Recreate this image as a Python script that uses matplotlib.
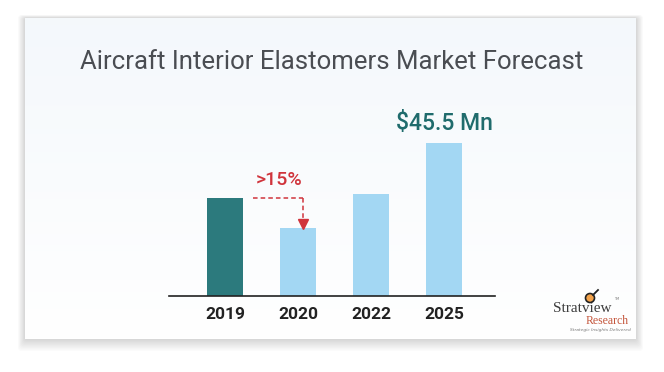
import matplotlib.pyplot as plt
import numpy as np
from matplotlib.patches import FancyBboxPatch, Circle

# ------------------------------------------------------------
# data
# ------------------------------------------------------------
years = ["2019", "2020", "2022", "2025"]
market = [29.1, 20.2, 30.3, 45.5]
bar_colors = ["#2c7a7d", "#a3d7f3", "#a3d7f3", "#a3d7f3"]
drop_label = ">15%"
final_label = "$45.5 Mn"
title = "Aircraft Interior Elastomers Market Forecast"

W, H = 664, 372
fig = plt.figure(figsize=(W / 100, H / 100), dpi=100)
fig.patch.set_facecolor("white")

# ------------------------------------------------------------
# background card (pixel coordinates)
# ------------------------------------------------------------
bg = fig.add_axes([0, 0, 1, 1])
bg.set_xlim(0, W)
bg.set_ylim(H, 0)
bg.axis("off")

cx0, cy0, cx1, cy1 = 25, 18, 636, 339
for k in range(10, 0, -1):
    bg.add_patch(FancyBboxPatch((cx0 - k * 0.7, cy0 - k * 0.3), cx1 - cx0 + k * 1.4, cy1 - cy0 + k * 1.5,
                                boxstyle="round,pad=0,rounding_size=3",
                                facecolor="#000000", edgecolor="none", alpha=0.015))
grad = np.linspace(0, 1, 256).reshape(-1, 1)
top = np.array([0.957, 0.973, 0.988])
bot = np.array([1.0, 1.0, 1.0])
img = top + (bot - top) * grad[..., None]
img = img.reshape(256, 1, 3)
bg.imshow(img, extent=[cx0, cx1, cy1, cy0], aspect="auto", zorder=1)
bg.set_xlim(0, W)
bg.set_ylim(H, 0)

bg.text(W / 2, 62, title, ha="center", va="center", fontsize=18.5,
        family="Roboto", color="#4a4d52", zorder=3)

# logo
bg.text(582, 308, "Stratview", ha="center", va="center", fontsize=11,
        family="Liberation Serif", color="#3d3d3d", zorder=3)
bg.text(607, 321, "Research", ha="center", va="center", fontsize=8.5,
        family="Liberation Serif", color="#c4553b", zorder=3)
bg.text(600, 330, "Strategic Insights Delivered", ha="center", va="center",
        fontsize=3.2, style="italic", color="#777777", zorder=3)
bg.text(617, 299, "TM", ha="center", va="center", fontsize=2.5, color="#777777", zorder=3)
bg.add_patch(Circle((590, 298), 4.5, facecolor="#f2a24a", edgecolor="#222222", lw=1.2, zorder=3))
bg.plot([593, 598], [295, 290], color="#222222", lw=1.3, zorder=3)

# ------------------------------------------------------------
# bar chart
# ------------------------------------------------------------
px_per_unit = 73.0
x0_px, base_px = 225.0, 296.0
xl = (169 - x0_px) / px_per_unit
xr = (495 - x0_px) / px_per_unit
ymax = 50
h_px = ymax * 152.7 / 45.5
ax = fig.add_axes([169 / W, (H - base_px) / H, 326 / W, h_px / H])
ax.set_xlim(xl, xr)
ax.set_ylim(0, ymax)
ax.patch.set_alpha(0)

x = np.arange(len(years))
ax.bar(x, market, width=0.48, color=bar_colors, zorder=2)

for s in ["top", "right", "left"]:
    ax.spines[s].set_visible(False)
ax.spines["bottom"].set_color("#222222")
ax.spines["bottom"].set_linewidth(1.2)
ax.set_yticks([])
ax.set_xticks(x)
ax.set_xticklabels(years, fontsize=12.5, fontweight="bold", family="Roboto", color="#222222")
ax.tick_params(axis="x", length=0, pad=8)

# decline marker 2019 -> 2020
red = "#d0343c"
ax.plot([0.385, 1.07], [market[0], market[0]], ls=(0, (3, 2)), color=red, lw=1.1, zorder=3)
ax.plot([1.07, 1.07], [market[0], market[1] + 2.5], ls=(0, (3, 2)), color=red, lw=1.1, zorder=3)
ax.plot([1.07], [market[1] + 1.3], marker="v", ms=7, color=red, zorder=3)
ax.text(0.74, market[0] + 5.5, drop_label, ha="center", va="center", fontsize=14,
        family="Roboto", fontweight="medium", color=red)

ax.annotate(final_label, (x[-1], market[-1]), xytext=(0, 6), textcoords="offset points",
            ha="center", va="bottom", fontsize=16.5, family="Roboto", fontweight="medium",
            color="#1f6b6c")

fig.savefig("out.png", dpi=100)
